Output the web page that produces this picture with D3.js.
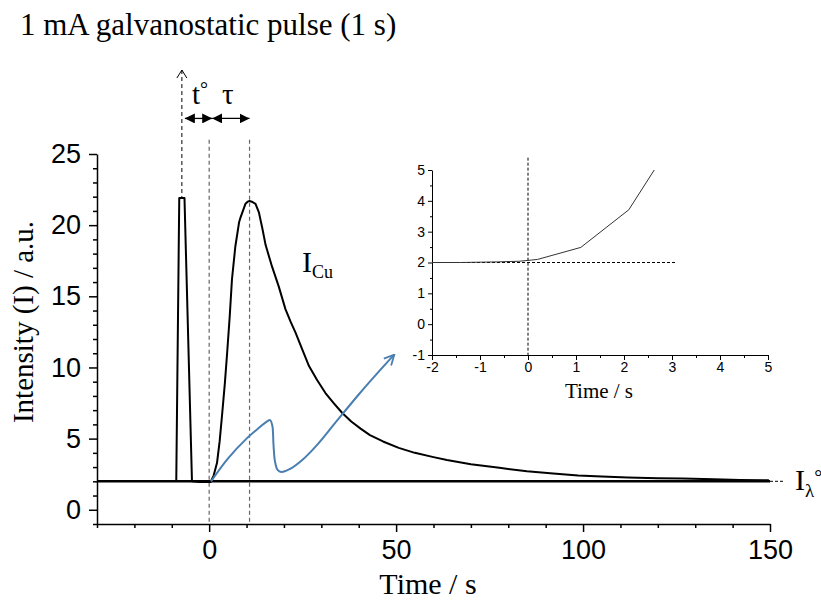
<!DOCTYPE html>
<html>
<head>
<meta charset="utf-8">
<script src="https://cdn.jsdelivr.net/npm/d3@7"></script>
<style>
    body { margin: 0; background: #fff; }
    .serif { font-family: "Liberation Serif", "Times New Roman", serif; fill: #000; }
    .axis text { font-family: "Liberation Sans", Arial, sans-serif; fill: #000; }
    .axis path, .axis line { stroke: #000; }
</style>
</head>
<body>
<div id="chart"></div>
<script>
// Main emission transient (time in s, intensity in a.u.)
const time = [-30, -8.8, -8.0, -6.6, -4.6, -2.5, 0.4, 1.2, 2.1, 2.8, 3.5, 4.2, 4.8, 5.5, 6.1, 7.0, 8.0, 8.4, 9.7, 10.3,
    10.8, 11.4, 12.4, 13.3, 14.2, 15.1, 16.8, 18.6, 20.4, 21.8, 23.1, 25.0, 26.7, 28.9, 31.1, 33.3, 35.6, 38.0, 40.5, 43.0,
    46.5, 50.7, 55, 60, 63.6, 70, 77.6, 85, 92, 98.7, 105, 112, 120, 126.6, 135, 142, 149.7];
const intensity = [2.02, 2.02, 21.9, 21.9, 2.0, 1.95, 1.95, 2.4, 3.3, 4.8, 6.8, 8.9, 11.0, 13.6, 16.2, 18.5, 20.2, 20.55, 21.5, 21.65,
    21.7, 21.65, 21.5, 20.9, 19.8, 18.6, 17.1, 15.7, 14.1, 13.2, 12.45, 11.2, 10.1, 9.1, 8.2, 7.5, 6.8, 6.2, 5.7, 5.25,
    4.8, 4.35, 4.0, 3.7, 3.5, 3.2, 2.95, 2.7, 2.55, 2.4, 2.33, 2.27, 2.22, 2.2, 2.15, 2.1, 2.07];
const baseline = 2.0;

// Zoomed inset around the onset
const insetTime = [-2, -1.4, -0.64, -0.19, 0.08, 0.2, 1.1, 2.1, 2.63];
const insetIntensity = [2.0, 2.0, 2.02, 2.04, 2.08, 2.1, 2.49, 3.71, 5.0];

// Blue annotation arrow, drawn in main chart units
const arrowTime = [0.5, 5, 10, 13.5, 15.4, 16.3, 16.9, 17.2, 17.6, 18.3, 19.3, 21.5, 24.9, 29, 33.7, 40, 45, 49.5];
const arrowIntensity = [2.0, 3.6, 5.0, 5.8, 6.2, 6.3, 5.9, 4.6, 3.4, 2.8, 2.65, 2.85, 3.5, 4.6, 6.1, 8.1, 9.6, 10.9];

// Tick values
const xMajor = [0, 50, 100, 150];
const xMinor = [-30, -20, -10, 10, 20, 30, 40, 60, 70, 80, 90, 110, 120, 130, 140];
const yMajor = [0, 5, 10, 15, 20, 25];
const yMinor = d3.range(-1, 26).filter(v => v % 5 !== 0);
const insetXMajor = [-2, -1, 0, 1, 2, 3, 4, 5];
const insetXMinor = d3.range(-1.5, 5, 1);
const insetYMajor = [-1, 0, 1, 2, 3, 4, 5];
const insetYMinor = d3.range(-0.5, 5, 1);

// Onset and delay markers
const tPulse = -7.3;
const tOnset = 0;
const tPeak = 10.8;

const svg = d3.select('#chart')
    .append('svg')
    .attr('width', 821)
    .attr('height', 600);

const defs = svg.append('defs');
defs.append('marker')
    .attr('id', 'tri')
    .attr('viewBox', '0 0 10 10')
    .attr('refX', 10).attr('refY', 5)
    .attr('markerWidth', 10).attr('markerHeight', 10)
    .attr('markerUnits', 'userSpaceOnUse')
    .attr('orient', 'auto-start-reverse')
    .append('path')
    .attr('d', 'M0,0 L10,5 L0,10 Z')
    .attr('fill', '#000');
defs.append('marker')
    .attr('id', 'vee')
    .attr('viewBox', '0 0 12 12')
    .attr('refX', 11).attr('refY', 6)
    .attr('markerWidth', 12).attr('markerHeight', 12)
    .attr('markerUnits', 'userSpaceOnUse')
    .attr('orient', 'auto')
    .append('path')
    .attr('d', 'M1,1 L11,6 L1,11')
    .attr('fill', 'none')
    .attr('stroke', '#4a7eb0')
    .attr('stroke-width', 1.8);

// Title
svg.append('text')
    .attr('class', 'serif')
    .attr('x', 20)
    .attr('y', 35)
    .style('font-size', '31px')
    .text('1 mA galvanostatic pulse (1 s)');

// ---- main chart ----
const x = d3.scaleLinear().domain([-30, 150]).range([97, 770]);
const y = d3.scaleLinear().domain([-1, 25]).range([524, 154]);

const gx = svg.append('g')
    .attr('class', 'axis')
    .attr('transform', 'translate(0,' + y(-1) + ')');
gx.call(d3.axisBottom(x).tickValues(xMajor).tickSize(8).tickPadding(8).tickSizeOuter(0));
gx.append('g').call(d3.axisBottom(x).tickValues(xMinor).tickSize(4).tickFormat(''))
    .select('.domain').remove();
gx.selectAll('text').style('font-size', '27px');
gx.selectAll('path, line').attr('stroke-width', 1.5);

const gy = svg.append('g')
    .attr('class', 'axis')
    .attr('transform', 'translate(' + x(-30) + ',0)');
gy.call(d3.axisLeft(y).tickValues(yMajor).tickSize(8).tickPadding(8).tickSizeOuter(0));
gy.append('g').call(d3.axisLeft(y).tickValues(yMinor).tickSize(4).tickFormat(''))
    .select('.domain').remove();
gy.selectAll('text').style('font-size', '27px');
gy.selectAll('path, line').attr('stroke-width', 1.5);

svg.append('text')
    .attr('class', 'serif')
    .attr('transform', 'translate(33,322) rotate(-90)')
    .attr('text-anchor', 'middle')
    .style('font-size', '29px')
    .text('Intensity (I) / a.u.');

svg.append('text')
    .attr('class', 'serif')
    .attr('x', 428)
    .attr('y', 594)
    .attr('text-anchor', 'middle')
    .style('font-size', '30px')
    .text('Time / s');

// dashed guides
svg.selectAll('.guide')
    .data([tOnset, tPeak])
    .enter().append('line')
    .attr('x1', d => x(d)).attr('x2', d => x(d))
    .attr('y1', y(26)).attr('y2', y(-1))
    .attr('stroke', '#666')
    .attr('stroke-width', 1.2)
    .attr('stroke-dasharray', '4,3');

svg.append('line')
    .attr('x1', x(tPulse)).attr('x2', x(tPulse))
    .attr('y1', y(30.9)).attr('y2', y(21.9))
    .attr('stroke', '#000')
    .attr('stroke-width', 1)
    .attr('stroke-dasharray', '4,3');
svg.append('path')
    .attr('d', 'M' + (x(tPulse) - 5) + ',' + (y(30.9) + 8) + ' L' + x(tPulse) + ',' + y(30.9) +
        ' L' + (x(tPulse) + 5) + ',' + (y(30.9) + 8))
    .attr('fill', 'none')
    .attr('stroke', '#000')
    .attr('stroke-width', 1);

// t° and tau double arrows
const arrowY = y(27.5);
const mid = x(tOnset) + 3;
svg.append('line')
    .attr('x1', x(tPulse) + 3).attr('x2', mid)
    .attr('y1', arrowY).attr('y2', arrowY)
    .attr('stroke', '#000').attr('stroke-width', 1.3)
    .attr('marker-start', 'url(#tri)').attr('marker-end', 'url(#tri)');
svg.append('line')
    .attr('x1', mid).attr('x2', x(tPeak))
    .attr('y1', arrowY).attr('y2', arrowY)
    .attr('stroke', '#000').attr('stroke-width', 1.3)
    .attr('marker-start', 'url(#tri)').attr('marker-end', 'url(#tri)');

const tlab = svg.append('text')
    .attr('class', 'serif')
    .attr('x', 192).attr('y', 104)
    .style('font-size', '29px');
tlab.append('tspan').text('t');
tlab.append('tspan').attr('dy', -8).style('font-size', '20px').text('°');
svg.append('text')
    .attr('class', 'serif')
    .attr('x', 222).attr('y', 104)
    .style('font-size', '29px')
    .text('τ');

// baseline I_lambda°
svg.append('line')
    .attr('x1', x(-30)).attr('x2', x(150))
    .attr('y1', y(baseline)).attr('y2', y(baseline))
    .attr('stroke', '#000')
    .attr('stroke-width', 2.4);
svg.append('line')
    .attr('x1', x(150)).attr('x2', x(153.5))
    .attr('y1', y(baseline)).attr('y2', y(baseline))
    .attr('stroke', '#000')
    .attr('stroke-width', 1)
    .attr('stroke-dasharray', '3,2');

const lbl = svg.append('text')
    .attr('class', 'serif')
    .attr('x', 795).attr('y', 490)
    .style('font-size', '30px');
lbl.append('tspan').text('I');
lbl.append('tspan').attr('dy', 7).style('font-size', '19px').text('λ');
lbl.append('tspan').attr('dy', -13).style('font-size', '20px').text('°');

// signal
const line = d3.line()
    .x((d, i) => x(time[i]))
    .y(d => y(d));
svg.append('path')
    .datum(intensity)
    .attr('d', line)
    .attr('fill', 'none')
    .attr('stroke', '#000')
    .attr('stroke-width', 2)
    .attr('stroke-linejoin', 'round');

const cu = svg.append('text')
    .attr('class', 'serif')
    .attr('x', 302).attr('y', 272)
    .style('font-size', '30px');
cu.append('tspan').text('I');
cu.append('tspan').attr('dy', 6).style('font-size', '18px').text('Cu');

// blue arrow
const blueLine = d3.line()
    .x((d, i) => x(arrowTime[i]))
    .y(d => y(d))
    .curve(d3.curveCatmullRom.alpha(0.5));
svg.append('path')
    .datum(arrowIntensity)
    .attr('d', blueLine)
    .attr('fill', 'none')
    .attr('stroke', '#4a7eb0')
    .attr('stroke-width', 2)
    .attr('marker-end', 'url(#vee)');

// ---- inset ----
const xi = d3.scaleLinear().domain([-2, 5]).range([432, 768]);
const yi = d3.scaleLinear().domain([-1, 5]).range([355, 170]);
const plain = d => String(d);

const ix = svg.append('g')
    .attr('class', 'axis')
    .attr('transform', 'translate(0,' + yi(-1) + ')');
ix.call(d3.axisBottom(xi).tickValues(insetXMajor).tickFormat(plain).tickSize(5).tickPadding(2).tickSizeOuter(0));
ix.append('g').call(d3.axisBottom(xi).tickValues(insetXMinor).tickSize(3).tickFormat(''))
    .select('.domain').remove();
ix.selectAll('text').style('font-size', '14px');

const iy = svg.append('g')
    .attr('class', 'axis')
    .attr('transform', 'translate(' + xi(-2) + ',0)');
iy.call(d3.axisLeft(yi).tickValues(insetYMajor).tickFormat(plain).tickSize(4).tickPadding(3).tickSizeOuter(0));
iy.append('g').call(d3.axisLeft(yi).tickValues(insetYMinor).tickSize(2).tickFormat(''))
    .select('.domain').remove();
iy.selectAll('text').style('font-size', '14px');

svg.append('text')
    .attr('class', 'serif')
    .attr('x', 599).attr('y', 398)
    .attr('text-anchor', 'middle')
    .style('font-size', '21px')
    .text('Time / s');

svg.append('line')
    .attr('x1', xi(0)).attr('x2', xi(0))
    .attr('y1', yi(5.4)).attr('y2', yi(-1))
    .attr('stroke', '#000').attr('stroke-width', 1)
    .attr('stroke-dasharray', '3,2');
svg.append('line')
    .attr('x1', xi(-2)).attr('x2', xi(3.1))
    .attr('y1', yi(baseline)).attr('y2', yi(baseline))
    .attr('stroke', '#000').attr('stroke-width', 1)
    .attr('stroke-dasharray', '3,2');

const insetLine = d3.line()
    .x((d, i) => xi(insetTime[i]))
    .y(d => yi(d));
svg.append('path')
    .datum(insetIntensity)
    .attr('d', insetLine)
    .attr('fill', 'none')
    .attr('stroke', '#333')
    .attr('stroke-width', 1);
</script>
</body>
</html>
